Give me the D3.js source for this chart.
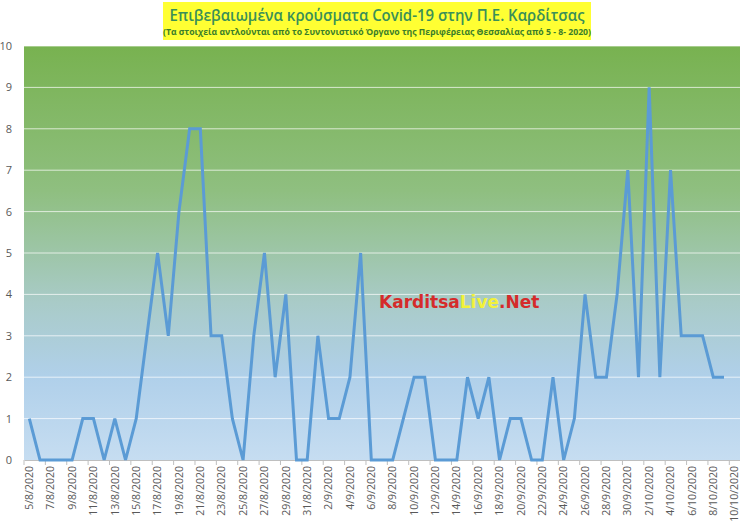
<!DOCTYPE html>
<html lang="el">
<head>
    <meta charset="UTF-8">
    <title>Covid-19 Καρδίτσα</title>
    <script src="https://cdn.jsdelivr.net/npm/d3@7/dist/d3.min.js"></script>
    <style>
        body { margin: 0; padding: 0; background: #fff; }
        text { font-family: "Open Sans", "DejaVu Sans", sans-serif; }
        .axis text { fill: #595959; font-size: 10.5px; }
        .axis path, .axis line { stroke: #bfbfbf; }
        .grid line { stroke: #ffffff; stroke-opacity: 0.7; }
    </style>
</head>
<body>
<svg width="740" height="528"></svg>
<script>
    // ημερομηνίες 5/8/2020 - 10/10/2020
    var dates = [
        '5/8/2020','6/8/2020','7/8/2020','8/8/2020','9/8/2020','10/8/2020','11/8/2020','12/8/2020',
        '13/8/2020','14/8/2020','15/8/2020','16/8/2020','17/8/2020','18/8/2020','19/8/2020','20/8/2020',
        '21/8/2020','22/8/2020','23/8/2020','24/8/2020','25/8/2020','26/8/2020','27/8/2020','28/8/2020',
        '29/8/2020','30/8/2020','31/8/2020','1/9/2020','2/9/2020','3/9/2020','4/9/2020','5/9/2020',
        '6/9/2020','7/9/2020','8/9/2020','9/9/2020','10/9/2020','11/9/2020','12/9/2020','13/9/2020',
        '14/9/2020','15/9/2020','16/9/2020','17/9/2020','18/9/2020','19/9/2020','20/9/2020','21/9/2020',
        '22/9/2020','23/9/2020','24/9/2020','25/9/2020','26/9/2020','27/9/2020','28/9/2020','29/9/2020',
        '30/9/2020','1/10/2020','2/10/2020','3/10/2020','4/10/2020','5/10/2020','6/10/2020','7/10/2020',
        '8/10/2020','9/10/2020','10/10/2020'
    ];
    // κρούσματα ανά ημέρα (10/10 χωρίς τιμή)
    var cases = [
        1,0,0,0,0,1,1,0,
        1,0,1,3,5,3,6,8,
        8,3,3,1,0,3,5,2,
        4,0,0,3,1,1,2,5,
        0,0,0,1,2,2,0,0,
        0,2,1,2,0,1,1,0,
        0,2,0,1,4,2,2,4,
        7,2,9,2,7,3,3,3,
        2,2
    ];
    var yTicks = [0,1,2,3,4,5,6,7,8,9,10];

    var title = 'Επιβεβαιωμένα κρούσματα Covid-19 στην Π.Ε. Καρδίτσας';
    var subtitle = '(Τα στοιχεία αντλούνται από το Συντονιστικό Όργανο της Περιφέρειας Θεσσαλίας από 5 - 8- 2020)';

    var svg = d3.select('svg');
    var plotL = 24, plotR = 740, plotT = 46, plotB = 460;

    var x = d3.scaleBand().domain(dates).range([plotL, plotR]);
    var y = d3.scaleLinear().domain([0, 10]).range([plotB, plotT]);

    // φόντο με διαβάθμιση
    var defs = svg.append('defs');
    var grad = defs.append('linearGradient')
            .attr('id', 'bg').attr('x1', 0).attr('y1', 0).attr('x2', 0).attr('y2', 1);
    grad.append('stop').attr('offset', '0%').attr('stop-color', '#78b250');
    grad.append('stop').attr('offset', '35%').attr('stop-color', '#8fbf80');
    grad.append('stop').attr('offset', '62%').attr('stop-color', '#a9cbc8');
    grad.append('stop').attr('offset', '80%').attr('stop-color', '#b0d0ea');
    grad.append('stop').attr('offset', '100%').attr('stop-color', '#c6ddf1');

    svg.append('rect')
            .attr('x', plotL).attr('y', plotT)
            .attr('width', plotR - plotL).attr('height', plotB - plotT)
            .attr('fill', 'url(#bg)');

    // γραμμές πλέγματος
    svg.append('g').attr('class', 'grid')
            .selectAll('line').data(yTicks.slice(1))
            .enter().append('line')
            .attr('x1', plotL).attr('x2', plotR)
            .attr('y1', function (d) { return y(d); })
            .attr('y2', function (d) { return y(d); });

    // άξονας y
    var yAxis = svg.append('g').attr('class', 'axis')
            .attr('transform', 'translate(' + plotL + ',0)')
            .call(d3.axisLeft(y).tickValues(yTicks).tickSize(0).tickPadding(6));
    yAxis.select('.domain').remove();
    yAxis.selectAll('text').attr('x', -12).style('font-size', '11px');

    // άξονας x
    var evenDates = dates.filter(function (d, i) { return i % 2 === 0; });
    var xAxis = svg.append('g').attr('class', 'axis')
            .attr('transform', 'translate(0,' + plotB + ')')
            .call(d3.axisBottom(x).tickValues(evenDates).tickSize(0));
    xAxis.selectAll('.tick text')
            .attr('transform', 'rotate(-90)')
            .attr('x', -6).attr('y', 0).attr('dy', '0.35em')
            .style('text-anchor', 'end');
    // μικρές γραμμές στα όρια κατηγοριών
    xAxis.selectAll('.cat-tick')
            .data(evenDates)
            .enter().append('line')
            .attr('class', 'cat-tick')
            .attr('x1', function (d) { return x(d); })
            .attr('x2', function (d) { return x(d); })
            .attr('y1', 0).attr('y2', 5)
            .attr('stroke', '#bfbfbf');

    // γραμμή κρουσμάτων
    var line = d3.line()
            .x(function (d, i) { return x(dates[i]) + x.bandwidth() / 2; })
            .y(function (d) { return y(d); });
    svg.append('path')
            .datum(cases)
            .attr('d', line)
            .attr('fill', 'none')
            .attr('stroke', '#5b9bd5')
            .attr('stroke-width', 3)
            .attr('stroke-linejoin', 'miter');

    // υδατογράφημα
    var wm = svg.append('text')
            .attr('x', 379).attr('y', 308)
            .style('font-family', '"DejaVu Sans", sans-serif')
            .style('font-weight', 'bold').style('font-size', '17px');
    wm.append('tspan').attr('fill', '#d52b2b').text('Karditsa');
    wm.append('tspan').attr('fill', '#f2f23a').text('Live');
    wm.append('tspan').attr('fill', '#d52b2b').text('.Net');

    // τίτλος
    svg.append('rect')
            .attr('x', 163).attr('y', 2).attr('width', 428).attr('height', 38)
            .attr('fill', '#ffff33');
    svg.append('text')
            .attr('x', 377).attr('y', 21)
            .attr('text-anchor', 'middle')
            .attr('fill', '#3a9058')
            .style('font-size', '17px').style('font-weight', '600')
            .attr('textLength', 415).attr('lengthAdjust', 'spacingAndGlyphs')
            .text(title);
    svg.append('text')
            .attr('x', 377).attr('y', 35)
            .attr('text-anchor', 'middle')
            .attr('fill', '#3a7d2a')
            .style('font-size', '8.5px').style('font-weight', 'bold')
            .attr('textLength', 428).attr('lengthAdjust', 'spacingAndGlyphs')
            .text(subtitle);
</script>
</body>
</html>
